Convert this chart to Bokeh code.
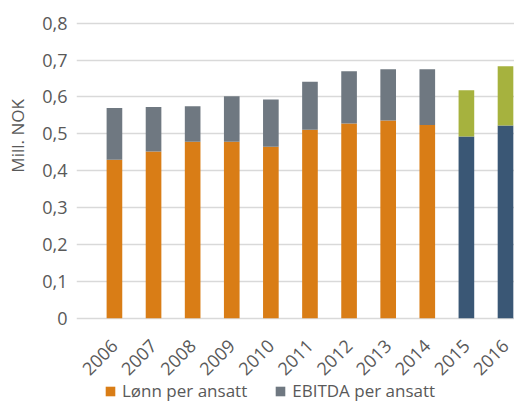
import math
from bokeh.plotting import figure
from bokeh.models import Range1d, Legend, LegendItem, FixedTicker, CustomJSTickFormatter, ColumnDataSource
from bokeh.core.properties import value
from bokeh.embed import file_html
from bokeh.resources import INLINE

years = ["2006", "2007", "2008", "2009", "2010", "2011", "2012", "2013", "2014", "2015", "2016"]
lonn = [0.430, 0.452, 0.479, 0.479, 0.465, 0.511, 0.528, 0.536, 0.524, 0.0, 0.0]
ebitda = [0.140, 0.121, 0.096, 0.123, 0.128, 0.130, 0.142, 0.139, 0.151, 0.0, 0.0]
lonn_prog = [0.0, 0.0, 0.0, 0.0, 0.0, 0.0, 0.0, 0.0, 0.0, 0.493, 0.523]
ebitda_prog = [0.0, 0.0, 0.0, 0.0, 0.0, 0.0, 0.0, 0.0, 0.0, 0.125, 0.160]
y_ticks = [0, 0.1, 0.2, 0.3, 0.4, 0.5, 0.6, 0.7, 0.8]

ORANGE = "#D97D16"
GRAY = "#6F7881"
BLUE = "#3A5775"
GREEN = "#A6B23E"
TXT = "#595959"
FONT = "Open Sans"
LABEL_Y = -0.066  # year labels sit just under the zero line

idx = list(range(len(years)))

p = figure(frame_width=438, frame_height=383, x_range=Range1d(-0.97, 10.23), y_range=Range1d(-0.228, 0.81),
           output_backend="svg", toolbar_location=None,
           min_border_left=76, min_border_right=0, min_border_top=19, min_border_bottom=0)
p.outline_line_color = None

src = ColumnDataSource(dict(idx=idx, years=years, lonn=lonn, ebitda=ebitda,
                            lonn_prog=lonn_prog, ebitda_prog=ebitda_prog))
r1 = p.vbar_stack(["lonn", "ebitda"], x="idx", width=0.4, source=src,
                  color=[ORANGE, GRAY], line_color=None)
r2 = p.vbar_stack(["lonn_prog", "ebitda_prog"], x="idx", width=0.4, source=src,
                  color=[BLUE, GREEN], line_color=None)

p.text(x="idx", y=LABEL_Y, text="years", source=src, angle=math.pi / 4,
       text_align="right", text_baseline="middle", x_offset=0,
       text_font=value(FONT), text_font_size="18px", text_color=TXT)

p.xgrid.grid_line_color = None
p.ygrid.grid_line_color = "#D9D9D9"
p.ygrid.grid_line_width = 1.5
p.ygrid.ticker = FixedTicker(ticks=y_ticks)

p.xaxis.visible = False

p.yaxis.ticker = FixedTicker(ticks=y_ticks)
p.yaxis.formatter = CustomJSTickFormatter(code="return tick == 0 ? '0' : tick.toFixed(1).replace('.', ',');")
p.yaxis.axis_line_color = None
p.yaxis.major_tick_line_color = None
p.yaxis.minor_tick_line_color = None
p.yaxis.major_label_text_font = FONT
p.yaxis.major_label_text_font_size = "18px"
p.yaxis.major_label_text_color = TXT
p.yaxis.major_label_standoff = 3
p.yaxis.axis_label = "\u00a0" * 34 + "Mill. NOK"
p.yaxis.axis_label_text_font = FONT
p.yaxis.axis_label_text_font_size = "17px"
p.yaxis.axis_label_text_font_style = "normal"
p.yaxis.axis_label_text_color = TXT
p.yaxis.axis_label_standoff = 10

legend = Legend(items=[LegendItem(label="Lønn per ansatt", renderers=[r1[0]]),
                       LegendItem(label="EBITDA per ansatt", renderers=[r1[1]])],
                orientation="horizontal", location=(28, 0),
                label_text_font=FONT, label_text_font_size="17px", label_text_color=TXT,
                glyph_width=12, glyph_height=12, label_standoff=6, spacing=27,
                padding=0, margin=0, border_line_color=None, background_fill_alpha=0)
p.add_layout(legend, "center")

open("out.html", "w").write(file_html(p, INLINE))
